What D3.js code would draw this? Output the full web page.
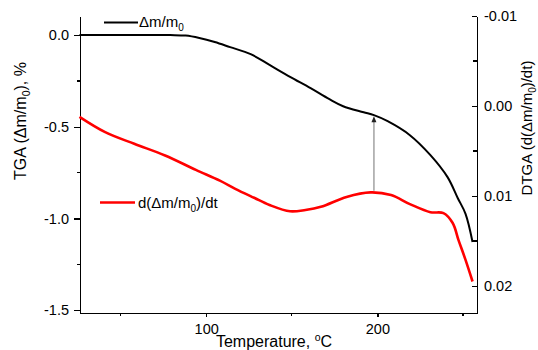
<!DOCTYPE html>
<html>
  <head>
    <meta charset="utf-8" />
    <title>TGA / DTGA</title>
    <style>
      body {
        margin: 0;
        background: #fff;
      }
      text {
        font-family: "Liberation Sans", Arial, sans-serif;
        fill: #000;
      }
      .axis path,
      .axis line {
        stroke: #000;
        stroke-width: 1.3;
        shape-rendering: crispEdges;
      }
    </style>
    <script src="https://d3js.org/d3.v7.min.js" charset="utf-8"></script>
  </head>
  <body>
    <script>
      const width = 538,
        height = 350;
      const plot = { left: 80, right: 477, top: 16, bottom: 313 };

      // black curve: TGA, left axis
      const tgaTemp = [26, 79, 88, 96, 105, 114, 126, 137, 149, 161, 172, 180, 192, 198, 206, 219, 231, 241, 247, 251.5, 255.6];
      const tgaValue = [0, 0, -0.003, -0.016, -0.038, -0.066, -0.104, -0.163, -0.228, -0.29, -0.35, -0.388, -0.421, -0.437, -0.47, -0.546, -0.655, -0.775, -0.89, -0.975, -1.129];

      // red curve: DTGA, right axis (inverted)
      const dtgTemp = [26, 41, 58, 76, 94, 108, 117, 128, 137, 149, 158, 167, 182, 196, 208, 219, 231, 238.6, 244, 247.4, 251.5, 255.6];
      const dtgValue = [0.0012, 0.0029, 0.0042, 0.0055, 0.0071, 0.0083, 0.0092, 0.0102, 0.011, 0.0117, 0.01155, 0.0112, 0.0101, 0.0096, 0.0099, 0.0109, 0.0118, 0.0119, 0.013, 0.0149, 0.0171, 0.0195];

      const xTicks = [100, 200];
      const xMinor = [50, 150, 250];
      const leftTicks = [0, -0.5, -1.0, -1.5];
      const leftMinor = [-0.25, -0.75, -1.25];
      const rightTicks = [-0.01, 0, 0.01, 0.02];
      const rightMinor = [-0.005, 0.005, 0.015];
      const arrowTemp = 198;

      const x = d3.scaleLinear().domain([26.3, 258.2]).range([plot.left, plot.right]);
      const yL = d3.scaleLinear().domain([-1.516, 0.104]).range([plot.bottom, plot.top]);
      const yR = d3.scaleLinear().domain([-0.01, 0.023]).range([plot.top, plot.bottom]);

      // plain hyphen for negative numbers, like the original
      const fmt = (p) => (d) => d3.format(p)(d).replace("\u2212", "-");

      const svg = d3
        .select("body")
        .append("svg")
        .attr("width", width)
        .attr("height", height);

      // axes
      const gx = svg
        .append("g")
        .attr("class", "axis")
        .attr("transform", "translate(0," + plot.bottom + ")")
        .call(d3.axisBottom(x).tickValues(xTicks).tickSize(4).tickSizeOuter(0).tickPadding(7).tickFormat(fmt("d")));
      gx.selectAll(".tick text").attr("font-size", 14.5);
      gx.selectAll(".minor")
        .data(xMinor)
        .join("line")
        .attr("class", "minor")
        .attr("x1", (d) => x(d))
        .attr("x2", (d) => x(d))
        .attr("y2", 3);

      const gl = svg
        .append("g")
        .attr("class", "axis")
        .attr("transform", "translate(" + plot.left + ",0)")
        .call(d3.axisLeft(yL).tickValues(leftTicks).tickSize(6).tickSizeOuter(0).tickPadding(5).tickFormat(fmt(".1f")));
      gl.selectAll(".tick text").attr("font-size", 14.5);
      gl.selectAll(".minor")
        .data(leftMinor)
        .join("line")
        .attr("class", "minor")
        .attr("y1", (d) => yL(d))
        .attr("y2", (d) => yL(d))
        .attr("x2", -3);

      const gr = svg
        .append("g")
        .attr("class", "axis")
        .attr("transform", "translate(" + plot.right + ",0)")
        .call(d3.axisRight(yR).tickValues(rightTicks).tickSize(0).tickSizeOuter(0).tickPadding(7).tickFormat(fmt(".2f")));
      gr.selectAll(".tick text").attr("font-size", 14.5);
      gr.selectAll(".tick line").attr("x2", -5);
      gr.selectAll(".minor")
        .data(rightMinor)
        .join("line")
        .attr("class", "minor")
        .attr("y1", (d) => yR(d))
        .attr("y2", (d) => yR(d))
        .attr("x2", -4);

      // curves
      const tgaLine = d3
        .line()
        .x((d, i) => x(tgaTemp[i]))
        .y((d) => yL(d))
        .curve(d3.curveCatmullRom.alpha(0.5));
      const dtgLine = d3
        .line()
        .x((d, i) => x(dtgTemp[i]))
        .y((d) => yR(d))
        .curve(d3.curveCatmullRom.alpha(0.5));

      // arrow from the red peak up to the black curve
      const ia = tgaTemp.indexOf(arrowTemp);
      const ja = dtgTemp.indexOf(196);
      const ay1 = yR(d3.interpolateNumber(dtgValue[ja], dtgValue[ja + 1])((arrowTemp - 196) / (208 - 196)));
      const ay2 = yL(tgaValue[ia]);
      const ax = x(arrowTemp);
      svg
        .append("line")
        .attr("x1", ax)
        .attr("x2", ax)
        .attr("y1", ay1 - 2)
        .attr("y2", ay2 + 5)
        .attr("stroke", "#8a8a8a")
        .attr("stroke-width", 1.2);
      svg
        .append("path")
        .attr("d", "M" + (ax - 2.5) + "," + (ay2 + 7) + "L" + ax + "," + (ay2 + 1) + "L" + (ax + 2.5) + "," + (ay2 + 7) + "Z")
        .attr("fill", "#222");

      svg
        .append("path")
        .attr("d", tgaLine(tgaValue))
        .attr("fill", "none")
        .attr("stroke", "#000")
        .attr("stroke-width", 2);
      svg
        .append("path")
        .attr("d", dtgLine(dtgValue))
        .attr("fill", "none")
        .attr("stroke", "#f00")
        .attr("stroke-width", 2.6);

      // legend
      svg.append("line").attr("x1", 104).attr("x2", 138).attr("y1", 22.5).attr("y2", 22.5).attr("stroke", "#000").attr("stroke-width", 2);
      const t1 = svg.append("text").attr("x", 139).attr("y", 27).attr("font-size", 15);
      t1.append("tspan").text("Δm/m");
      t1.append("tspan").attr("font-size", 10).attr("dy", 4).text("0");

      svg.append("line").attr("x1", 100).attr("x2", 135).attr("y1", 202.5).attr("y2", 202.5).attr("stroke", "#f00").attr("stroke-width", 2.6);
      const t2 = svg.append("text").attr("x", 138).attr("y", 207.5).attr("font-size", 15);
      t2.append("tspan").text("d(Δm/m");
      t2.append("tspan").attr("font-size", 10).attr("dy", 4).text("0");
      t2.append("tspan").attr("dy", -4).text(")/dt");

      // axis titles
      const xt = svg.append("text").attr("x", 274).attr("y", 347).attr("text-anchor", "middle").attr("font-size", 16);
      xt.append("tspan").text("Temperature, ");
      xt.append("tspan").attr("font-size", 10.5).attr("dy", -6).text("o");
      xt.append("tspan").attr("dy", 6).text("C");

      const lt = svg.append("text").attr("transform", "translate(26,121) rotate(-90)").attr("text-anchor", "middle").attr("font-size", 16);
      lt.append("tspan").text("TGA (Δm/m");
      lt.append("tspan").attr("font-size", 10.5).attr("dy", 4).text("0");
      lt.append("tspan").attr("dy", -4).text("), %");

      const rt = svg.append("text").attr("transform", "translate(532,128) rotate(-90)").attr("text-anchor", "middle").attr("font-size", 15);
      rt.append("tspan").text("DTGA (d(Δm/m");
      rt.append("tspan").attr("font-size", 10).attr("dy", 4).text("0");
      rt.append("tspan").attr("dy", -4).text(")/dt)");
    </script>
  </body>
</html>
